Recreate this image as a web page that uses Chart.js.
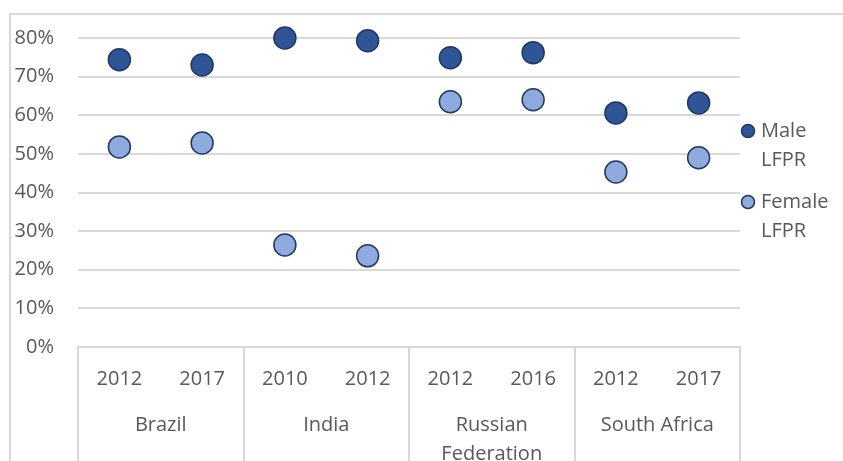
<!DOCTYPE html>
<html>
<head>
<meta charset="utf-8">
<script src="https://cdn.jsdelivr.net/npm/chart.js@4.4.1/dist/chart.umd.min.js"></script>
<style>
  html, body { margin: 0; padding: 0; background: #fff; }
  #wrap { position: relative; width: 843px; height: 461px; overflow: hidden; }
  #frame { position: absolute; left: 9px; top: 13px; width: 900px; height: 500px; border: 2px solid #D9D9D9; }
  canvas { position: absolute; left: 0; top: 0; }
</style>
</head>
<body>
<div id="wrap">
  <div id="frame"></div>
  <canvas id="lfpr" width="843" height="461"></canvas>
</div>
<script>
// data
const years = ['2012', '2017', '2010', '2012', '2012', '2016', '2012', '2017'];
const countries = ['Brazil', 'India', ['Russian', 'Federation'], 'South Africa'];
const maleLFPR = [0.744, 0.730, 0.800, 0.793, 0.749, 0.762, 0.606, 0.632];
const femaleLFPR = [0.518, 0.528, 0.264, 0.236, 0.635, 0.640, 0.453, 0.490];
const yTicks = [0, 0.1, 0.2, 0.3, 0.4, 0.5, 0.6, 0.7, 0.8];

const textColor = '#595959';
const gridColor = '#D9D9D9';
const fontFamily = '"Open Sans", sans-serif';

// vertical lines between the country groups
const groupLines = {
  id: 'groupLines',
  afterDraw(chart) {
    const x = chart.scales.x;
    const ctx = chart.ctx;
    ctx.save();
    ctx.strokeStyle = gridColor;
    ctx.lineWidth = 2;
    for (let i = 0; i <= years.length; i += 2) {
      let px;
      if (i === 0) px = x.left;
      else if (i === years.length) px = x.right;
      else px = (x.getPixelForTick(i - 1) + x.getPixelForTick(i)) / 2;
      px = Math.round(px);
      ctx.beginPath();
      ctx.moveTo(px, x.top - 1);
      ctx.lineTo(px, chart.height);
      ctx.stroke();
    }
    ctx.restore();
  }
};

// legend on the right, with wrapped text
const sideLegend = {
  id: 'sideLegend',
  afterDraw(chart) {
    const ctx = chart.ctx;
    const rows = [131, 202];
    ctx.save();
    ctx.font = '20px ' + fontFamily;
    ctx.textBaseline = 'middle';
    chart.data.datasets.forEach(function(ds, i) {
      const y = rows[i];
      ctx.beginPath();
      ctx.arc(748, y, 6.5, 0, Math.PI * 2);
      ctx.fillStyle = ds.backgroundColor;
      ctx.fill();
      ctx.lineWidth = 1.5;
      ctx.strokeStyle = ds.borderColor;
      ctx.stroke();
      ctx.fillStyle = textColor;
      ds.label.split(' ').forEach(function(word, j) {
        ctx.fillText(word, 761, y + j * 29);
      });
    });
    ctx.restore();
  }
};

const ctx = document.getElementById('lfpr').getContext('2d');
const lfprChart = new Chart(ctx, {
  type: 'line',
  data: {
    labels: years,
    datasets: [{
      label: 'Male LFPR',
      data: maleLFPR,
      showLine: false,
      backgroundColor: '#2F5597',
      borderColor: '#1F3864',
      pointRadius: 11,
      pointBorderWidth: 1.5,
      pointHoverRadius: 11
    }, {
      label: 'Female LFPR',
      data: femaleLFPR,
      showLine: false,
      backgroundColor: '#8FAADC',
      borderColor: '#1F3864',
      pointRadius: 11,
      pointBorderWidth: 1.5,
      pointHoverRadius: 11
    }]
  },
  options: {
    responsive: false,
    animation: false,
    clip: false,
    layout: { padding: { left: 0, top: 38, right: 103, bottom: 0 } },
    plugins: {
      legend: { display: false },
      tooltip: { enabled: false }
    },
    scales: {
      x: {
        type: 'category',
        position: 'bottom',
        weight: 0,
        offset: true,
        grid: { display: false, drawTicks: false },
        border: { display: false },
        ticks: { color: textColor, font: { family: fontFamily, size: 20 }, padding: 20, maxRotation: 0, autoSkip: false },
        afterFit(scale) { scale.height = 48; }
      },
      x2: {
        type: 'category',
        position: 'bottom',
        weight: 1,
        labels: countries,
        offset: true,
        grid: { display: false, drawTicks: false },
        border: { display: false },
        ticks: { color: textColor, font: { family: fontFamily, size: 20, lineHeight: 1.45 }, padding: 16, maxRotation: 0, autoSkip: false },
        afterFit(scale) { scale.height = 66; }
      },
      y: {
        min: 0,
        max: 0.8,
        afterBuildTicks(scale) { scale.ticks = yTicks.map(function(v) { return { value: v }; }); },
        grid: { color: gridColor, drawTicks: false, lineWidth: 2 },
        border: { display: false },
        ticks: {
          color: textColor,
          font: { family: fontFamily, size: 20 },
          padding: 24,
          callback: function(v) { return Math.round(v * 100) + '%'; }
        },
        afterFit(scale) { scale.width = 78; }
      }
    }
  },
  plugins: [groupLines, sideLegend]
});
</script>
</body>
</html>
